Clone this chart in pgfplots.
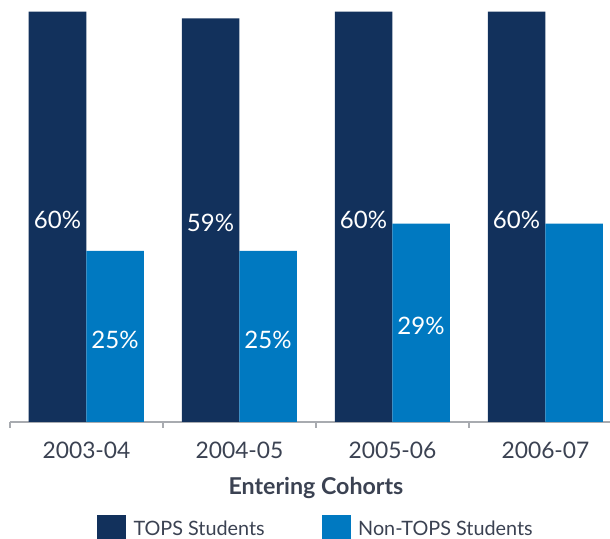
\documentclass[border=0pt]{standalone}
\usepackage{fontspec}
\setmainfont{Lato}
\usepackage{pgfplots}
\pgfplotsset{compat=1.18}
\definecolor{navy}{HTML}{12315C}
\definecolor{cblue}{HTML}{0079C1}
\definecolor{txt}{HTML}{3B4252}
\definecolor{axgray}{HTML}{A8ABB0}
\begin{document}
\begin{tikzpicture}
\begin{axis}[
  at={(0,0)}, anchor=south west,
  scale only axis, width=306pt, height=205.25pt,
  xmin=-0.5, xmax=3.5, ymin=0, ymax=60,
  axis y line=none, axis x line*=bottom,
  x axis line style={axgray, line width=0.6pt},
  ybar, bar width=28.75pt,
  xtick={0,1,2,3}, xticklabels={2003-04,2004-05,2005-06,2006-07},
  major tick length=0pt,
  extra x ticks={-0.5,0.5,1.5,2.5,3.5}, extra x tick labels={},
  extra x tick style={major tick length=3pt, tick align=outside, tick style={axgray, line width=0.6pt}},
  xticklabel style={font=\fontsize{11.4}{13}\selectfont, text=txt, yshift=-6.3pt},
  xlabel={Entering Cohorts},
  xlabel style={font=\fontsize{11.6}{13}\bfseries\selectfont, text=txt, yshift=0.5pt},
  clip=false,
  nodes near coords, point meta=explicit symbolic,
  visualization depends on={rawy \as \rawy},
  every node near coord/.append style={font=\fontsize{12}{14}\selectfont, text=white, anchor=center,
     shift={(axis direction cs:0,-\rawy/2)}, yshift=-1.5pt},
  legend columns=2,
  legend style={at={(0.1422,-0.2620)}, anchor=west, draw=none, fill=none, inner sep=0pt, outer sep=0pt,
     font=\fontsize{9.9}{12}\selectfont, text=txt,
     nodes={inner sep=0pt},
     /tikz/every odd column/.append style={column sep=3.75pt},
     /tikz/every even column/.append style={column sep=28.5pt}},
  legend image code/.code={\fill[#1] (0pt,-7.25pt) rectangle (14.5pt,7.25pt);},
]
\addplot[fill=navy, draw=none, bar shift=-14.5pt] coordinates {(0,60) [60\%] (1,59) [59\%] (2,60) [60\%] (3,60) [60\%]};
\addplot[fill=cblue, draw=none, bar shift=14.25pt] coordinates {(0,25) [25\%] (1,25) [25\%] (2,29) [29\%] (3,29) [{}]};
\legend{TOPS Students, Non-TOPS Students}
\end{axis}
\pgfresetboundingbox
\path[use as bounding box] (-5pt,-58.5pt) rectangle (300pt,211pt);
\end{tikzpicture}
\end{document}
